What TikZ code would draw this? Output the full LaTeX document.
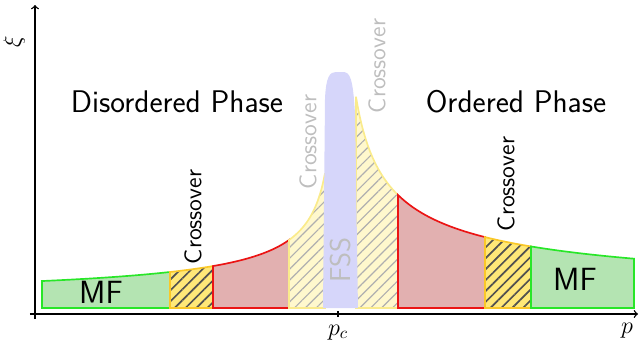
\documentclass[tikz,border=0pt]{standalone}
\usetikzlibrary{patterns.meta}

\definecolor{mffill}{RGB}{180,228,178}
\definecolor{mfline}{RGB}{40,230,40}
\definecolor{redfill}{RGB}{226,176,176}
\definecolor{redline}{RGB}{235,20,20}
\definecolor{crossfill}{RGB}{255,232,120}
\definecolor{crossline}{RGB}{250,200,40}
\definecolor{lightfill}{RGB}{255,248,205}
\definecolor{lightline}{RGB}{250,235,140}
\definecolor{fssblue}{RGB}{214,214,250}
\definecolor{hatchdark}{RGB}{80,80,80}
\definecolor{hatchlight}{RGB}{175,175,175}
\definecolor{labelgray}{RGB}{190,190,190}

\begin{document}
\begin{tikzpicture}[x=0.021cm,y=0.021cm,
    declare function={xil(\t)=6+68*(49/(303-\t))^0.516; xir(\t)=6+113*(60/(\t-303))^0.52;},
    mfbox/.style={draw=mfline, fill=mffill, line width=1pt},
    redbox/.style={draw=redline, fill=redfill, line width=1pt},
    crossdark/.style={draw=crossline, line width=1pt, preaction={fill=crossfill},
        pattern={Lines[angle=45,distance=4.6pt,line width=1pt]}, pattern color=hatchdark},
    crosslight/.style={draw=lightline, line width=1pt, preaction={fill=lightfill},
        pattern={Lines[angle=45,distance=4.6pt,line width=0.7pt]}, pattern color=hatchlight},
    crosslabel/.style={rotate=90, font=\sffamily\fontsize{14.4}{17}\selectfont},
    phaselabel/.style={font=\sffamily\fontsize{18.7}{22}\selectfont},
    mflabel/.style={font=\sffamily\fontsize{19.2}{22}\selectfont}]
    \useasboundingbox (-35,-27) rectangle (606,314);

    % regions, left of p_c
    \draw[mfbox] (7,6) -- plot[domain=7:135] (\x,{xil(\x)}) -- (135,6) -- cycle;
    \draw[crossdark] (135,6) -- plot[domain=135:178] (\x,{xil(\x)}) -- (178,6) -- cycle;
    \draw[redbox] (178,6) -- plot[domain=178:254] (\x,{xil(\x)}) -- (254,6) -- cycle;
    \draw[crosslight] (254,6) -- plot[domain=254:290,samples=40] (\x,{xil(\x)}) -- (290,6) -- cycle;

    % regions, right of p_c
    \draw[crosslight] (321,6) -- plot[domain=321:363,samples=40] (\x,{xir(\x)}) -- (363,6) -- cycle;
    \draw[redbox] (363,6) -- plot[domain=363:450] (\x,{xir(\x)}) -- (450,6) -- cycle;
    \draw[crossdark] (450,6) -- plot[domain=450:496] (\x,{xir(\x)}) -- (496,6) -- cycle;
    \draw[mfbox] (496,6) -- plot[domain=496:599] (\x,{xir(\x)}) -- (599,6) -- cycle;

    % finite size scaling peak
    \fill[fssblue] (288,6) -- (290,215) .. controls (291,238) and (295,242) .. (301,242)
        -- (308,242) .. controls (315,242) and (318,236) .. (320,200)
        .. controls (321,150) and (322,60) .. (323,6) -- cycle;

    % axes
    \coordinate (xstart) at (-5,0);
    \coordinate (xend) at (603,0);
    \coordinate (ystart) at (0,-5);
    \coordinate (yend) at (0,309);
    \draw[thick, ->] (xstart) -- (xend);
    \draw[thick, ->] (ystart) -- (yend);
    \draw[thick] (303,-3) -- (303,3);

    \node[below] (pc) at (303,-5) {\Large $p_c$};
    \node[below] (plabel) at (592,-3) {\Large $p$};
    \node[rotate=90] (xilabel) at (-21,272) {\Large $\xi$};

    \node[phaselabel] (disordered) at (142,212) {Disordered Phase};
    \node[phaselabel] (ordered) at (481,212) {Ordered Phase};

    \node[crosslabel] (crossA) at (158,97) {Crossover};
    \node[crosslabel, labelgray] (crossB) at (273,172) {Crossover};
    \node[crosslabel, labelgray] (crossC) at (342,248) {Crossover};
    \node[crosslabel] (crossD) at (471,130) {Crossover};

    \node[rotate=90, labelgray, font=\sffamily\fontsize{17.2}{20}\selectfont] (fss) at (306,54) {FSS};
    \node[mflabel] (mfleft) at (66,22) {MF};
    \node[mflabel] (mfright) at (540,35) {MF};
\end{tikzpicture}
\end{document}
